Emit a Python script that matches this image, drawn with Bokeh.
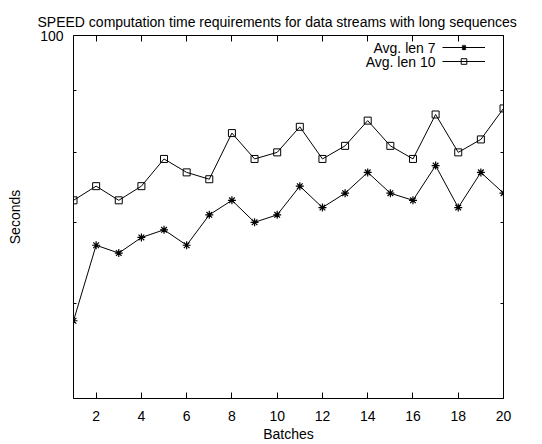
from bokeh.plotting import figure
from bokeh.models import (Range1d, FixedTicker, LinearAxis, LogAxis, Label, Legend,
                          LegendItem, CustomJSTickFormatter, BasicTickFormatter, Title)
from bokeh.core.properties import value
from bokeh.embed import file_html
from bokeh.resources import INLINE

# ---- data ----
batches = list(range(1, 21))
len7 = [58, 67, 66, 68, 69, 67, 71, 73, 70, 71, 75, 72, 74, 77, 74, 73, 78, 72, 77, 74]
len10 = [73, 75, 73, 75, 79, 77, 76, 83, 79, 80, 84, 79, 81, 85, 81, 79, 86, 80, 82, 87]
x_ticks = [2, 4, 6, 8, 10, 12, 14, 16, 18, 20]
y_major_ticks = [100]
y_minor_ticks = [50, 60, 70, 80, 90]
series_labels = ["Avg. len 7", "Avg. len 10"]
title_text = "SPEED computation time requirements for data streams with long sequences"
x_label = "Batches"
y_label = "Seconds"

FONT = "Liberation Sans"
FS = "14px"

p = figure(width=542, height=444, title=None,
           x_range=Range1d(1, 20), y_range=Range1d(50, 100), y_axis_type="log",
           output_backend="svg", toolbar_location=None,
           min_border_left=73, min_border_right=39, min_border_top=35, min_border_bottom=44)
p.grid.visible = False
p.outline_line_color = "black"
p.outline_line_width = 1
p.background_fill_color = "white"
p.border_fill_color = "white"

xticker = FixedTicker(ticks=x_ticks, minor_ticks=[])
yticker = FixedTicker(ticks=y_major_ticks, minor_ticks=y_minor_ticks)


def style(ax):
    ax.axis_line_color = None
    ax.major_tick_in = 6
    ax.major_tick_out = 0
    ax.minor_tick_in = 3
    ax.minor_tick_out = 0
    ax.major_tick_line_color = "black"
    ax.minor_tick_line_color = "black"
    ax.major_label_text_font = FONT
    ax.major_label_text_font_size = FS
    ax.major_label_text_color = "black"
    ax.axis_label_text_font = FONT
    ax.axis_label_text_font_size = FS
    ax.axis_label_text_font_style = "normal"
    ax.axis_label_text_color = "black"


xa = p.xaxis[0]
xa.ticker = xticker
xa.axis_label = x_label
style(xa)
xa.major_label_standoff = 12
xa.axis_label_standoff = 2

ya = p.yaxis[0]
ya.ticker = yticker
ya.formatter = BasicTickFormatter()
ya.axis_label = y_label
style(ya)
ya.major_label_standoff = 10
ya.axis_label_standoff = 14

top = LinearAxis(ticker=xticker, formatter=CustomJSTickFormatter(code="return ''"))
style(top)
top.major_label_standoff = 0
top.major_label_text_font_size = "0px"
p.add_layout(top, "above")
right = LogAxis(ticker=yticker, formatter=CustomJSTickFormatter(code="return ''"))
style(right)
right.major_label_standoff = 0
right.major_label_text_font_size = "0px"
p.add_layout(right, "right")

p.add_layout(Title(text=title_text, align="left", offset=-36, standoff=12,
                   text_font=FONT, text_font_size=FS, text_font_style="normal",
                   text_color="black"), "above")

l7 = p.line(batches, len7, line_color="black", line_width=1)
m7 = p.scatter(batches, len7, marker="asterisk", size=8, line_color="black", line_width=1.2)
l10 = p.line(batches, len10, line_color="black", line_width=1)
m10 = p.scatter(batches, len10, marker="square", size=7, line_color="black",
                fill_color=None, line_width=1)

legend = Legend(items=[LegendItem(label=value(""), renderers=[l7, m7]),
                       LegendItem(label=value(""), renderers=[l10, m10])],
                location=(369, 330), glyph_width=43, glyph_height=14,
                label_width=0, label_height=0, label_standoff=0, label_text_font_size="1px",
                padding=0, margin=0, spacing=0,
                border_line_color=None, background_fill_alpha=0)
p.add_layout(legend)

for txt, yy in zip(series_labels, [351, 337]):
    p.add_layout(Label(x=362, y=yy, x_units="screen", y_units="screen", text=txt,
                       text_align="right", text_baseline="middle",
                       text_font=FONT, text_font_size=FS, text_color="black"))

open("out.html", "w").write(file_html(p, INLINE))
